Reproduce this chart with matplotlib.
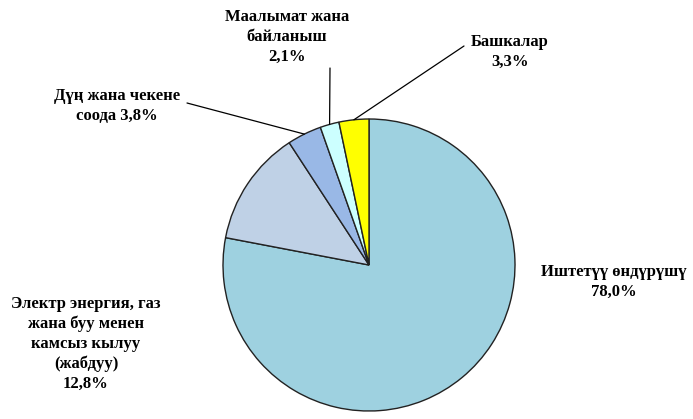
import numpy as np
import matplotlib
matplotlib.use("Agg")
import matplotlib.pyplot as plt

labels = ["Иштетүү өндүрүшү\n78,0%",
          "Электр энергия, газ\nжана буу менен\nкамсыз кылуу\n(жабдуу)\n12,8%",
          "Дүң жана чекене\nсоода 3,8%",
          "Маалымат жана\nбайланыш\n2,1%",
          "Башкалар\n3,3%"]
shares = [78.0, 12.8, 3.8, 2.1, 3.3]
colors = ["#9ED1E0", "#BFD1E6", "#99B8E6", "#CCFFFF", "#FFFF00"]

# label centres (figure pixels from top-left) and leader line starts (None = no line)
label_pos = [(614, 282), (86, 344), (117, 106), (287, 37), (510, 52)]
line_start = [None, None, (187, 103), (330, 68), (464, 46)]

W, H = 693, 419
fig = plt.figure(figsize=(W / 100, H / 100), dpi=100)
cx, cy, r = 369, 265, 146
ax = fig.add_axes([(cx - r) / W, (H - cy - r) / H, 2 * r / W, 2 * r / H])
wedges, _ = ax.pie(shares, colors=colors, startangle=90, counterclock=False,
                   radius=1, wedgeprops=dict(edgecolor="#222222", linewidth=1))
ax.set_xlim(-1, 1)
ax.set_ylim(-1, 1)
ax.set_aspect("equal")
ax.axis("off")

font = dict(family="Liberation Serif", weight="bold", size=12)
for i, w in enumerate(wedges):
    lx, ly = label_pos[i]
    fig.text(lx / W, 1 - ly / H, labels[i], ha="center", va="center",
             linespacing=1.3, **font)
    if line_start[i] is not None:
        a = np.deg2rad((w.theta1 + w.theta2) / 2)
        sx, sy = line_start[i]
        ax.annotate("", xy=(np.cos(a), np.sin(a)), xycoords="data",
                    xytext=(sx, H - sy), textcoords="figure pixels",
                    arrowprops=dict(arrowstyle="-", color="black", lw=0.9,
                                    shrinkA=0, shrinkB=0))

fig.savefig("out.png", dpi=100)
